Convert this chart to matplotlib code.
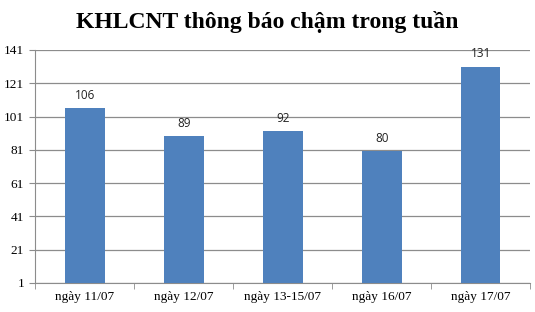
import matplotlib.pyplot as plt
import numpy as np

# data
categories = ['ngày 11/07', 'ngày 12/07', 'ngày 13-15/07', 'ngày 16/07', 'ngày 17/07']
values = [106, 89, 92, 80, 131]
yticks = [1, 21, 41, 61, 81, 101, 121, 141]

fig = plt.figure(figsize=(5.35, 3.12), dpi=100)
ax = fig.add_axes([0.066, 0.093, 0.925, 0.747])

x = np.arange(len(categories))
bars = ax.bar(x, values, width=0.4, color='#4F81BD', zorder=3)

for xi, v in zip(x, values):
    ax.text(xi, v + 4, str(v), ha='center', va='bottom', fontsize=8.5,
            family='Open Sans', color='#222222')

ax.set_ylim(1, 141)
ax.set_yticks(yticks)
ax.set_xlim(-0.5, len(categories) - 0.5)
ax.yaxis.grid(True, color='#8c8c8c', linewidth=0.9, zorder=0)

ax.set_xticks(x)
ax.set_xticklabels(categories, family='Liberation Serif', fontsize=9.5)
ax.set_xticks(np.arange(len(categories) + 1) - 0.5, minor=True)
ax.tick_params(axis='x', which='major', length=0, pad=6)
ax.tick_params(axis='x', which='minor', length=4, color='#8c8c8c')
ax.tick_params(axis='y', length=4, color='#8c8c8c', labelsize=9.5, pad=4)
for lab in ax.get_yticklabels():
    lab.set_family('Liberation Serif')

for s in ['top', 'right']:
    ax.spines[s].set_visible(False)
ax.spines['left'].set_color('#8c8c8c')
ax.spines['bottom'].set_color('#8c8c8c')

fig.text(0.5, 0.93, 'KHLCNT thông báo chậm trong tuần', ha='center', va='center',
         family='Liberation Serif', fontweight='bold', fontsize=17)

fig.savefig('out.png', dpi=100)
